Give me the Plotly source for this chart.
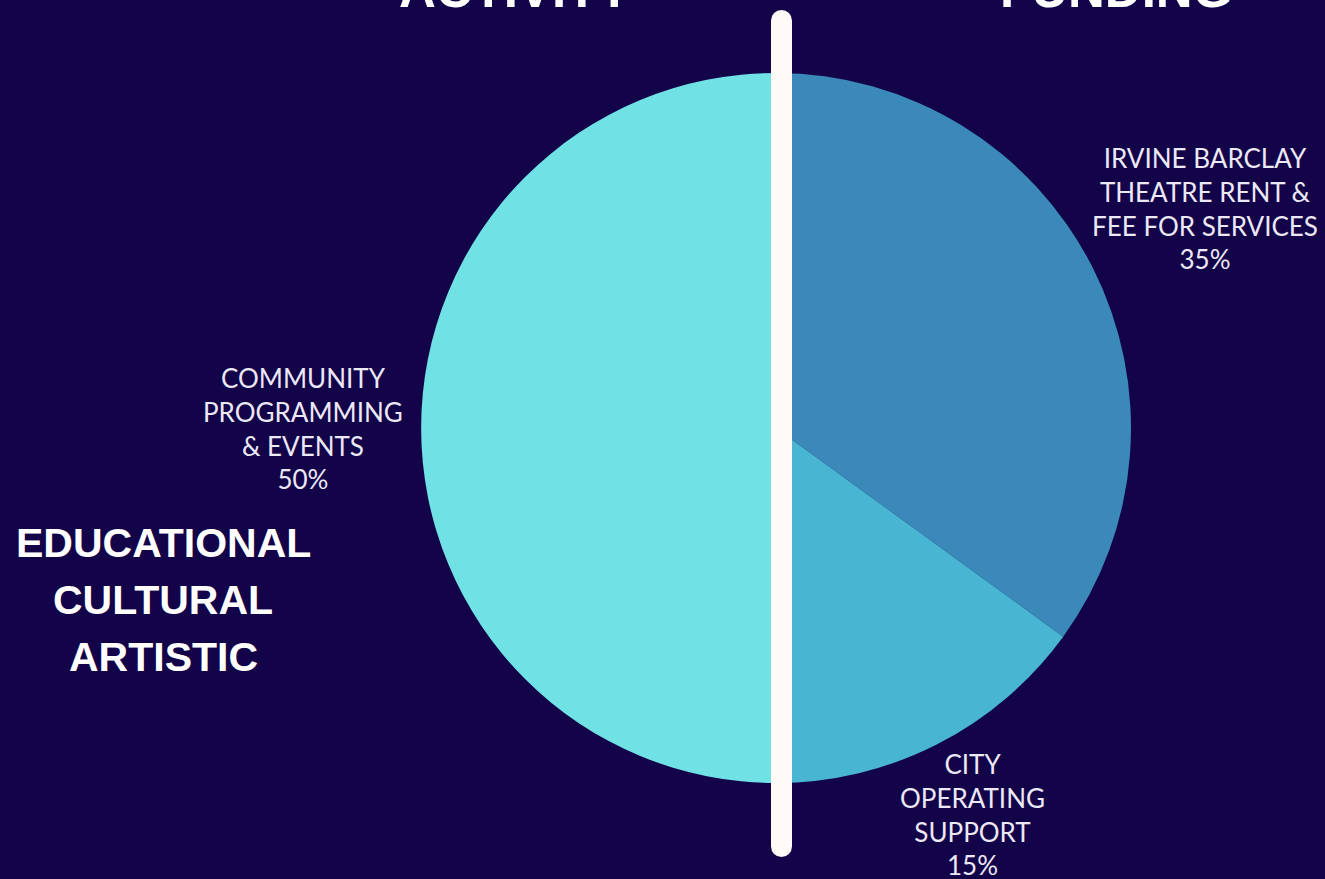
import plotly.graph_objects as go

W, H = 1325, 879

# data
categories = ["IRVINE BARCLAY<br>THEATRE RENT &<br>FEE FOR SERVICES",
              "CITY<br>OPERATING<br>SUPPORT",
              "COMMUNITY<br>PROGRAMMING<br>& EVENTS"]
shares = [35, 15, 50]
slice_colors = ["#3a89b8", "#48b5d3", "#70e1e5"]
side_titles = ["ACTIVITY", "FUNDING"]
left_words = ["EDUCATIONAL", "CULTURAL", "ARTISTIC"]

BG = "#130348"

def px(x):
    return x / W

def py(y):
    return (H - y) / H

cx, cy, r = 776, 428, 355

fig = go.Figure()
fig.add_trace(go.Pie(
    values=shares,
    labels=categories,
    sort=False,
    direction="clockwise",
    rotation=0,
    marker=dict(colors=slice_colors, line=dict(width=0)),
    textinfo="none",
    hoverinfo="label+percent",
    showlegend=False,
    domain=dict(x=[px(cx - r), px(cx + r)], y=[py(cy + r), py(cy - r)]),
))

label_font = dict(family="Lato, 'Open Sans', sans-serif", size=26, color="#ece8f6")
label_pos = [(1205, 209), (972, 814), (303, 428)]
for cat, val, (lx, ly) in zip(categories, shares, label_pos):
    fig.add_annotation(
        x=px(lx), y=py(ly), xref="paper", yref="paper",
        text=f"{cat}<br>{val}%", showarrow=False,
        font=label_font, align="center", xanchor="center", yanchor="middle",
    )

bold_font = dict(family="Liberation Sans, Arial, sans-serif", size=41, color="white")
for i, w in enumerate(left_words):
    fig.add_annotation(
        x=px(163), y=py(543 + 57 * i), xref="paper", yref="paper",
        text=f"<b>{w}</b>", showarrow=False, font=bold_font,
        xanchor="center", yanchor="middle",
    )

title_font = dict(family="Liberation Sans, Arial, sans-serif", size=51, color="white")
for t, tx in zip(side_titles, [515, 1116]):
    fig.add_annotation(
        x=px(tx), y=py(-10), xref="paper", yref="paper",
        text=f"<b>{t}</b>", showarrow=False, font=title_font,
        xanchor="center", yanchor="middle",
    )

# white divider bar with rounded ends
bx0, bx1, by0, by1 = 771, 792, 10, 857
rad = (bx1 - bx0) / 2
bar_col = "#fffaf6"
fig.add_shape(type="rect", xref="paper", yref="paper",
              x0=px(bx0), x1=px(bx1), y0=py(by0 + rad), y1=py(by1 - rad),
              fillcolor=bar_col, line=dict(width=0), layer="above")
for yc in (by0 + rad, by1 - rad):
    fig.add_shape(type="circle", xref="paper", yref="paper",
                  x0=px(bx0), x1=px(bx1), y0=py(yc + rad), y1=py(yc - rad),
                  fillcolor=bar_col, line=dict(width=0), layer="above")

fig.update_layout(
    width=W, height=H,
    margin=dict(l=0, r=0, t=0, b=0),
    paper_bgcolor=BG, plot_bgcolor=BG,
    showlegend=False,
)

fig.write_html("out.html")
